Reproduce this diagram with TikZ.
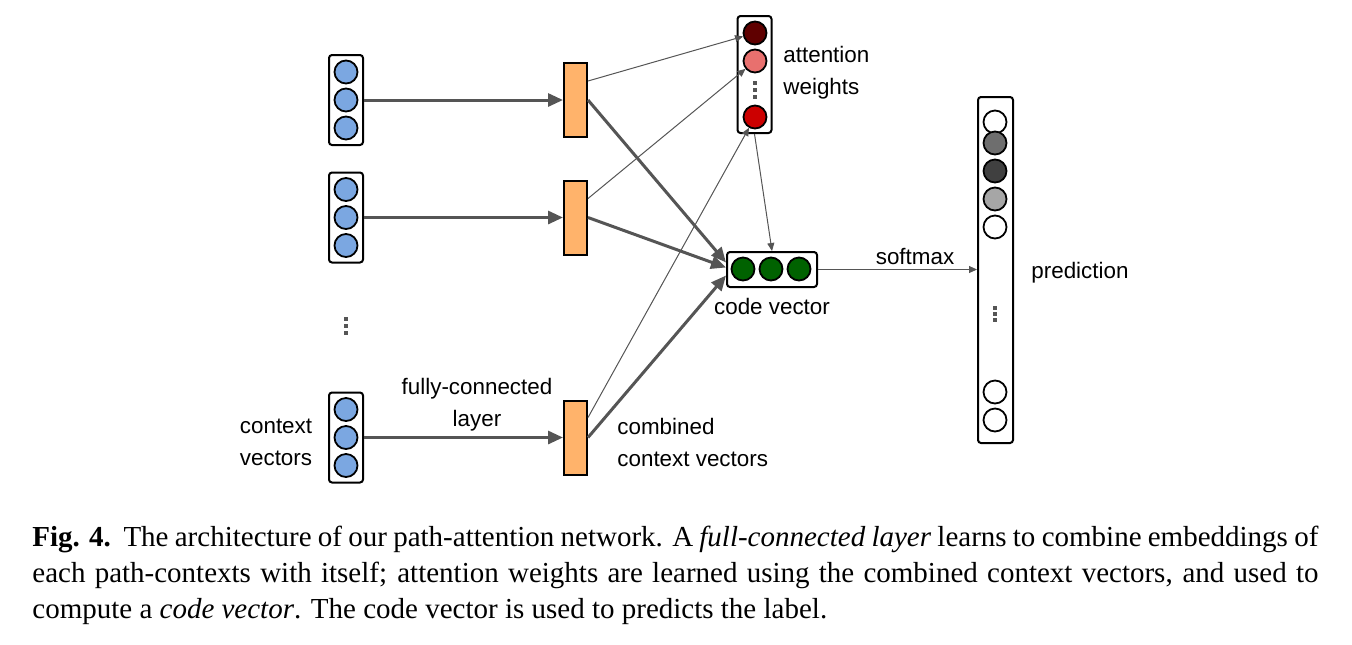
\documentclass[tikz,border=0pt]{standalone}
\usepackage{fontspec}
\setmainfont{Liberation Serif}
\setsansfont{Liberation Sans}
\usetikzlibrary{arrows.meta}

\definecolor{ctxblue}{RGB}{123,167,225}
\definecolor{fcorange}{RGB}{255,179,107}
\definecolor{attdark}{RGB}{95,0,0}
\definecolor{attlight}{RGB}{232,112,110}
\definecolor{attred}{RGB}{204,0,0}
\definecolor{codegreen}{RGB}{0,98,0}
\definecolor{arrowgray}{RGB}{85,85,85}

\begin{document}
\begin{tikzpicture}[x=0.5pt,y=0.5pt,yscale=-1,xscale=1,
    vecbox/.style={draw,line width=1pt,rounded corners=1.5pt,minimum width=17pt,inner sep=0pt},
    unit/.style={circle,draw,line width=0.9pt,minimum size=11.5pt,inner sep=0pt},
    fcbox/.style={draw,line width=1pt,fill=fcorange,minimum width=11.5pt,minimum height=37pt,inner sep=0pt},
    thick arrow/.style={draw=arrowgray,line width=1.5pt,-{Triangle[length=7.5pt,width=6.5pt]}},
    thin arrow/.style={draw=arrowgray,line width=0.5pt,-{Triangle[length=4pt,width=3.5pt]}},
    lbl/.style={font=\sffamily\fontsize{11.2}{16}\selectfont,inner sep=0pt}
  ]
        \useasboundingbox (0,0) rectangle (1352,644);

        % context vectors and fully-connected layer
        \foreach \i/\y in {1/100,2/217.5,3/437.5}{
          \node[vecbox,minimum height=45pt] (ctx\i) at (346,\y) {};
          \foreach \j/\dy in {1/-28,2/0,3/28}
            \node[unit,fill=ctxblue] (ctx\i-\j) at (346,\y+\dy) {};
          \node[fcbox] (fc\i) at (575.5,\y) {};
          \draw[thick arrow] (ctx\i.east) -- (fc\i.west);
        }

        % vertical dots
        \foreach \x/\y in {346/319,346/326,346/333,755/83,755/90,755/97,995/308,995/314,995/320}
          \fill[arrowgray] (\x-1.8,\y-1.8) rectangle ++(3.6,3.6);

        % attention weights
        \node[vecbox,minimum height=58.5pt] (att) at (754.5,74.5) {};
        \node[unit,fill=attdark] (att-1) at (755,33) {};
        \node[unit,fill=attlight] (att-2) at (755,61) {};
        \node[unit,fill=attred] (att-3) at (755,117) {};

        % code vector
        \node[vecbox,minimum width=45pt,minimum height=17.5pt] (code) at (772,269.5) {};
        \foreach \j/\x in {1/743,2/771,3/799}
          \node[unit,fill=codegreen] (code-\j) at (\x,269) {};

        % prediction
        \node[vecbox,minimum width=17.5pt,minimum height=173pt] (pred) at (995.5,270) {};
        \foreach \j/\y/\c in {1/122/white,2/143/black!57,3/171/black!75,4/199/black!35,5/227/white,6/392/white,7/420/white}
          \node[unit,fill=\c] (pred-\j) at (995,\y) {};

        % connectors
        \draw[thin arrow] ([yshift=-9.5pt]fc1.east) -- (att-1);
        \draw[thin arrow] ([yshift=-9.5pt]fc2.east) -- (att-2);
        \draw[thin arrow] ([yshift=-10pt]fc3.east) -- (att-3);
        \draw[thick arrow] (fc1.east) -- ([yshift=-3.5pt]code.west);
        \draw[thick arrow] (fc2.east) -- ([yshift=-1pt]code.west);
        \draw[thick arrow] (fc3.east) -- ([yshift=3pt]code.west);
        \draw[thin arrow] (att.south) -- (code.north);
        \draw[thin arrow] (code.east) -- (code.east -| pred.west);

        % labels
        \node[lbl,anchor=west,align=left] (att-label) at (783,73) {attention\\weights};
        \node[lbl] (code-label) at (772,306) {code vector};
        \node[lbl] (softmax) at (915,256) {softmax};
        \node[lbl,anchor=west] (pred-label) at (1031,273) {prediction};
        \node[lbl,align=center] (fc-label) at (477,405) {fully-connected\\layer};
        \node[lbl,align=center] (ctx-label) at (276,442) {context\\vectors};
        \node[lbl,anchor=west,align=left] (comb-label) at (617,442) {combined\\context vectors};

        % caption
        \node[anchor=north west,inner sep=0pt,text width=643pt,align=justify,font=\fontsize{14.5}{17.8}\selectfont] (caption) at (32,526)
          {\textbf{Fig. 4.}\ \ The architecture of our path-attention network. A \textit{full-connected layer} learns to combine embeddings of\linebreak each path-contexts with itself; attention weights are learned using the combined context vectors, and used to\linebreak compute a \textit{code vector}. The code vector is used to predicts the label.};

    \end{tikzpicture}
\end{document}
